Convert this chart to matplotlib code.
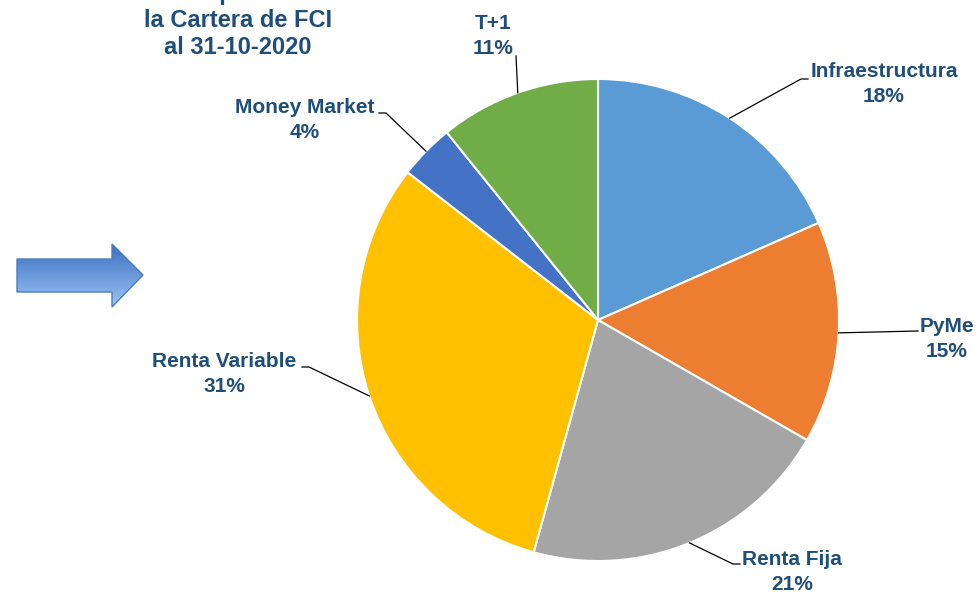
import numpy as np
import matplotlib.pyplot as plt
from matplotlib.patches import Polygon
from matplotlib.colors import LinearSegmentedColormap

plt.rcParams['font.family'] = ['Liberation Sans', 'DejaVu Sans']

# data
labels = ['Infraestructura', 'PyMe', 'Renta Fija', 'Renta Variable', 'Money Market', 'T+1']
values = [18.4, 14.9, 21.0, 31.2, 3.7, 10.8]
colors = ['#5B9BD5', '#ED7D31', '#A5A5A5', '#FFC000', '#4472C4', '#70AD47']
title_lines = ['Participación en', 'la Cartera de FCI', 'al 31-10-2020']

txt_color = '#1F4E79'
W, H = 978, 595

def Y(y):
    # pixel row -> axes y (y up)
    return H - y

fig = plt.figure(figsize=(W / 100, H / 100), dpi=100)
ax = fig.add_axes([0, 0, 1, 1])

cx, cy, r = 598, 320, 241
ax.pie(values, colors=colors, startangle=90, counterclock=False,
       center=(cx, Y(cy)), radius=r,
       wedgeprops=dict(edgecolor='white', linewidth=1.5))

# label placement: (text center x, first baseline y, elbow x, elbow y)
place = {
    'Infraestructura': (884, 77, 808, 79),
    'PyMe': (947, 332, 918, 331),
    'Renta Fija': (792, 565, 740, 564),
    'Renta Variable': (224, 367, 302, 367),
    'Money Market': (305, 113, 379, 113),
    'T+1': (493, 29, 516, 56),
}

tot = sum(values)
cum = 0
for lab, v in zip(labels, values):
    mid = (cum + v / 2) / tot * 2 * np.pi
    cum += v
    sx = cx + r * np.sin(mid)
    sy = cy - r * np.cos(mid)
    tx, ty, ex, ey = place[lab]
    if lab in ('T+1', 'PyMe'):
        ax.plot([sx, ex], [Y(sy), Y(ey)], color='black', lw=0.9)
    else:
        hx = ex - 7 if ex > cx else ex + 7
        ax.plot([sx, hx, ex], [Y(sy), Y(ey), Y(ey)], color='black', lw=0.9)
    ax.text(tx, Y(ty), lab, ha='center', va='baseline', fontsize=15,
            fontweight='bold', color=txt_color)
    ax.text(tx, Y(ty + 25), f'{round(v / tot * 100):.0f}%', ha='center',
            va='baseline', fontsize=15, fontweight='bold', color=txt_color)

# title (first line cut off at the top, as in the source)
for i, line in enumerate(title_lines):
    ax.text(238, Y(0 + 27 * i), line, ha='center', va='baseline', fontsize=17,
            fontweight='bold', color=txt_color)

# block arrow with gradient
pts = [(17, 259), (112, 259), (112, 244), (143, 275), (112, 307), (112, 292), (17, 292)]
arrow = Polygon([(x, Y(y)) for x, y in pts], closed=True, facecolor='none',
                edgecolor='#4A7EBB', lw=1.0, zorder=3)
ax.add_patch(arrow)
grad = np.linspace(0, 1, 100).reshape(-1, 1)
cm = LinearSegmentedColormap.from_list('ar', ['#3A6FC0', '#9DC3F7'])
im = ax.imshow(grad, cmap=cm, extent=(17, 143, Y(307), Y(244)), aspect='auto',
               origin='upper', zorder=2)
im.set_clip_path(arrow)

ax.set_xlim(0, W)
ax.set_ylim(0, H)
ax.set_aspect('equal')
ax.axis('off')

fig.savefig('out.png', dpi=100)
